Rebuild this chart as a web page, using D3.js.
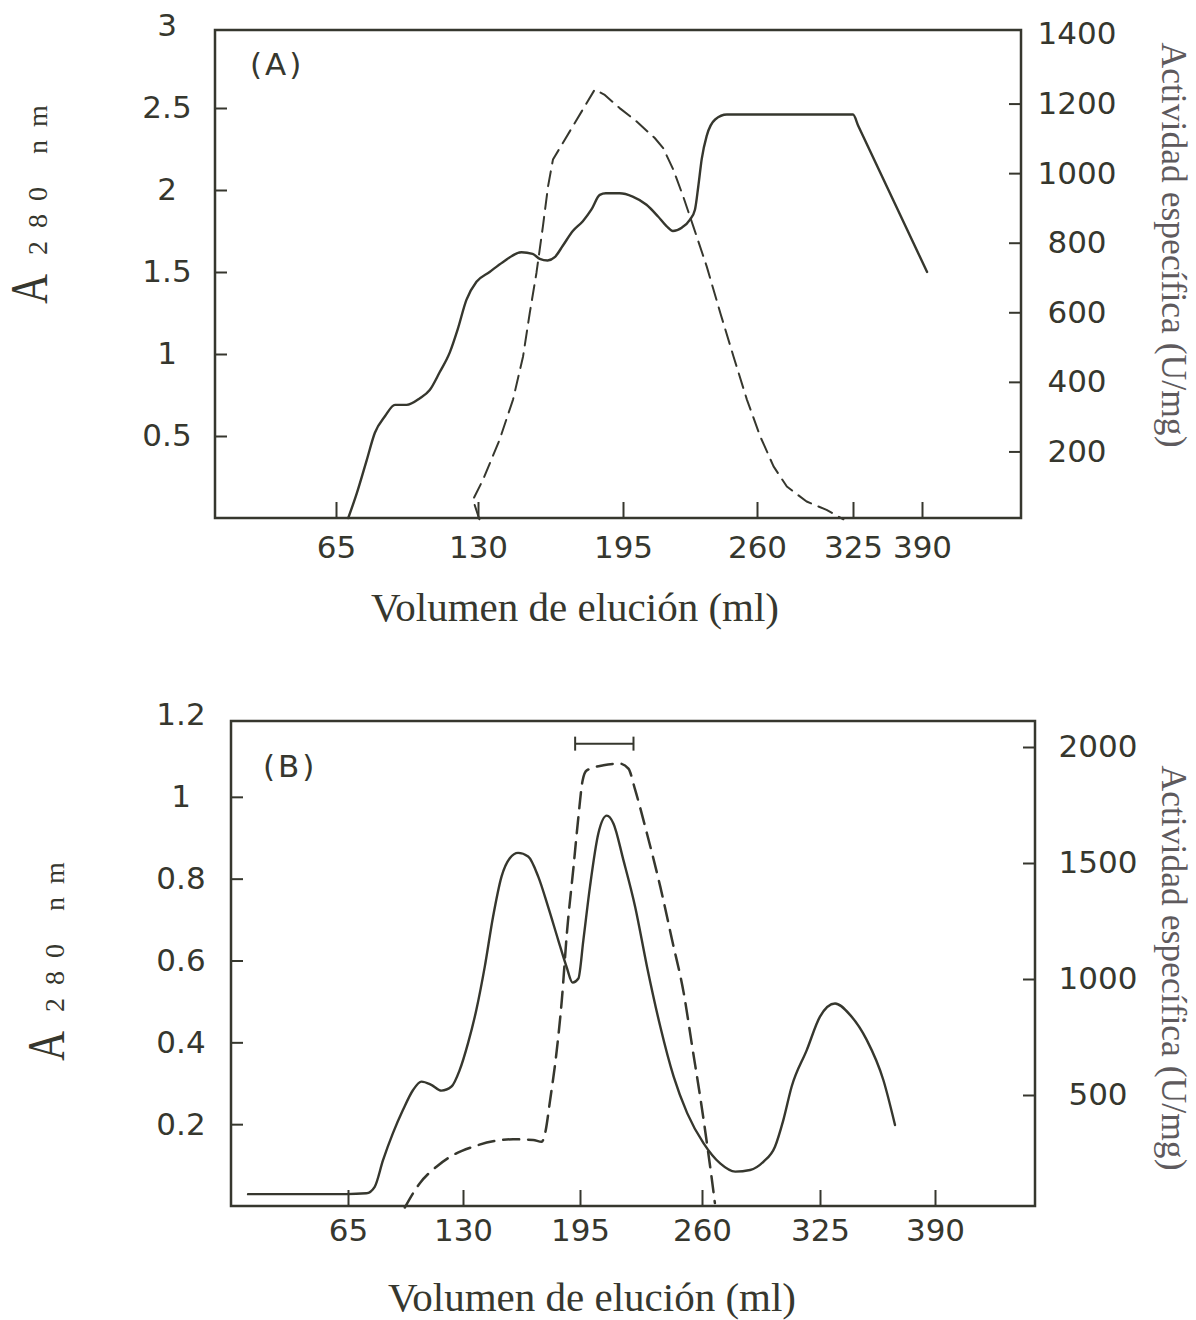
<!DOCTYPE html>
<html>

<head>
  <meta charset="utf-8">
  <script src="https://d3js.org/d3.v7.min.js"></script>
  <style>
    body {
      margin: 0;
      background: #fff;
    }

    svg {
      display: block;
    }

    .frame {
      fill: none;
      stroke: #36372e;
      stroke-width: 2.5;
    }

    .curve {
      fill: none;
      stroke: #36372e;
      stroke-linejoin: round;
      stroke-linecap: round;
    }
  </style>
</head>

<body>
  <script>
    // ---- datos ----
    const xTicks = [65, 130, 195, 260, 325, 390];
    const absTicksA = [0.5, 1, 1.5, 2, 2.5, 3];
    const actTicksA = [200, 400, 600, 800, 1000, 1200, 1400];
    const absTicksB = [0.2, 0.4, 0.6, 0.8, 1, 1.2];
    const actTicksB = [500, 1000, 1500, 2000];

    // (A) absorbancia a 280 nm [ml, A]
    const absA = [
      [70.6, 0], [74.5, 0.15], [79, 0.35], [82.8, 0.52], [87.4, 0.62], [92, 0.69], [97.3, 0.69],
      [103.4, 0.73], [107.9, 0.78], [112.5, 0.89], [117.1, 1.01], [120.7, 1.15], [124.7, 1.33],
      [129.3, 1.44], [135.2, 1.5], [141.1, 1.56], [149.5, 1.62], [154.5, 1.61], [157.7, 1.58],
      [161.2, 1.57], [164.4, 1.59], [168, 1.66], [172.5, 1.75], [177, 1.81], [180.8, 1.88],
      [184.6, 1.97], [187.3, 1.98], [193.5, 1.98], [199.7, 1.96], [206.4, 1.91], [211.9, 1.84],
      [216.1, 1.78], [219.2, 1.75], [223.5, 1.77], [227.5, 1.82], [229.9, 1.88], [231.5, 2.02],
      [233.2, 2.19], [235.6, 2.33], [239.7, 2.43], [245.4, 2.46], [266.7, 2.46], [325, 2.46],
      [330, 2.39], [394.8, 1.5]
    ];
    // (A) actividad especifica [ml, U/mg]
    const actA = [
      [130.6, 5], [127.7, 61], [132.2, 118], [139.7, 234], [145.7, 349], [150.2, 473], [153.2, 598],
      [156.2, 713], [159.1, 847], [161.4, 962], [163.6, 1039], [182.3, 1240], [186.6, 1226],
      [193.5, 1187], [201.5, 1149], [210.4, 1101], [214.5, 1072], [219.4, 1010], [224.2, 933],
      [229.1, 847], [235.6, 732], [242.2, 598], [248.6, 473], [255.1, 349], [262.2, 243],
      [271.2, 157], [280.2, 99], [293.6, 56], [307.1, 32], [318.5, 5]
    ];

    // (B) absorbancia a 280 nm [ml, A]
    const absB = [
      [8.5, 0.029], [64.1, 0.029], [75.4, 0.031], [80.1, 0.047], [84.8, 0.112], [90.4, 0.178],
      [96.1, 0.235], [101.7, 0.283], [106.5, 0.304], [112.1, 0.296], [117.8, 0.282], [123.5, 0.292],
      [128.1, 0.332], [132.8, 0.398], [137.4, 0.479], [142.1, 0.585], [146.7, 0.707], [151.4, 0.805],
      [156, 0.85], [160.6, 0.863], [166.2, 0.854], [171.8, 0.805], [177.3, 0.731], [182.9, 0.65],
      [187.5, 0.585], [190.9, 0.546], [194.1, 0.556], [196.8, 0.65], [200.3, 0.78], [204.8, 0.911],
      [209.3, 0.954], [212.8, 0.935], [218.1, 0.846], [224.4, 0.731], [230.7, 0.585], [237.8, 0.438],
      [244.9, 0.316], [252.1, 0.227], [260.9, 0.153], [270, 0.104], [278.3, 0.084], [286.5, 0.088],
      [293.8, 0.108], [300.2, 0.145], [304.8, 0.21], [309.4, 0.292], [317.7, 0.381], [325, 0.463],
      [333.5, 0.495], [342, 0.467], [351.4, 0.406], [360.8, 0.308], [367.4, 0.198]
    ];
    // (B) actividad especifica [ml, U/mg]
    const actB = [
      [97.1, 15], [105.5, 119], [115, 191], [124.4, 241], [135.6, 277], [148.6, 303], [157.9, 309],
      [169, 306], [173.7, 298], [175.6, 335], [178.4, 478], [182.1, 693], [184.9, 909], [187.7, 1196],
      [191.4, 1483], [194.1, 1698], [196.4, 1856], [198.6, 1899], [207.5, 1921], [216.4, 1928],
      [220.8, 1907], [224.4, 1815], [230.7, 1626], [237.8, 1397], [244.1, 1167], [250.3, 938],
      [254.8, 708], [259.3, 478], [263.5, 248], [266.2, 90], [267.1, 34]
    ];
    // fracciones reunidas (barra sobre el pico)
    const poolB = [192.3, 223.5];
    const poolLevelB = 1.13;

    const ink = "#36372e";
    const svg = d3.select("body")
      .append("svg")
      .attr("width", 1196)
      .attr("height", 1320);

    // el eje x original no es lineal: cada marca en su sitio
    const panels = [
      {
        tag: "(A)", abs: absA, act: actA, absTicks: absTicksA, actTicks: actTicksA,
        absMax: 3, actMax: 1400, actCurve: d3.curveLinear,
        frame: { left: 215, right: 1021, top: 30, bottom: 518 },
        xPx: [336, 478, 623, 757, 853, 922], yL: [518, 26], yR: [521, 34],
        leftLab: -48, rightLab: 56, xLab: 29, tagPos: [250, 75], dash: "15,8", actWidth: 2,
        xTitle: [575, 621], yTitle: [47, 304], rTitle: [1162, 245]
      },
      {
        tag: "(B)", abs: absB, act: actB, absTicks: absTicksB, actTicks: actTicksB,
        absMax: 1.2, actMax: 2000, actCurve: d3.curveMonotoneX,
        frame: { left: 231, right: 1035, top: 721, bottom: 1206 },
        xPx: [348, 463, 580, 702, 820, 935], yL: [1206, 715], yR: [1211, 747],
        leftLab: -50, rightLab: 63, xLab: 24, tagPos: [263, 777], dash: "16,9", actWidth: 2.5,
        xTitle: [592, 1311], yTitle: [64, 1061], rTitle: [1162, 968]
      }
    ];

    panels.forEach(function (p) {
      const f = p.frame;
      const x = d3.scaleLinear().domain(xTicks).range(p.xPx);
      const yL = d3.scaleLinear().domain([0, p.absMax]).range(p.yL);
      const yR = d3.scaleLinear().domain([0, p.actMax]).range(p.yR);

      const g = svg.append("g");

      // ejes con marcas hacia dentro
      g.append("g")
        .attr("transform", `translate(0,${f.bottom})`)
        .call(d3.axisBottom(x).tickValues(xTicks).tickSize(-16).tickFormat(d3.format("d")))
        .call(a => a.select(".domain").remove())
        .call(a => a.selectAll("text").attr("y", p.xLab).attr("dy", "0.36em"));

      g.append("g")
        .attr("transform", `translate(${f.left},0)`)
        .call(d3.axisLeft(yL).tickValues(p.absTicks).tickSize(-12).tickFormat(d => String(d)))
        .call(a => a.select(".domain").remove())
        .call(a => a.selectAll(".tick").filter(d => yL(d) < f.top + 8).select("line").remove())
        .call(a => a.selectAll("text").attr("x", p.leftLab).attr("text-anchor", "middle"));

      g.append("g")
        .attr("transform", `translate(${f.right},0)`)
        .call(d3.axisRight(yR).tickValues(p.actTicks).tickSize(-12).tickFormat(d => String(d)))
        .call(a => a.select(".domain").remove())
        .call(a => a.selectAll(".tick").filter(d => yR(d) < f.top + 8).select("line").remove())
        .call(a => a.selectAll("text").attr("x", p.rightLab).attr("text-anchor", "middle"));

      g.selectAll(".tick line").attr("stroke", ink).attr("stroke-width", 2);
      g.selectAll(".tick text")
        .attr("fill", ink)
        .attr("font-family", "DejaVu Sans")
        .attr("font-size", 31);

      g.append("rect")
        .attr("class", "frame")
        .attr("x", f.left)
        .attr("y", f.top)
        .attr("width", f.right - f.left)
        .attr("height", f.bottom - f.top);

      // curvas
      g.append("path")
        .datum(p.abs)
        .attr("class", "curve")
        .attr("stroke-width", 2.4)
        .attr("d", d3.line().x(d => x(d[0])).y(d => yL(d[1])).curve(d3.curveMonotoneX));

      g.append("path")
        .datum(p.act)
        .attr("class", "curve")
        .attr("stroke-width", p.actWidth)
        .attr("stroke-dasharray", p.dash)
        .attr("stroke-linecap", "butt")
        .attr("d", d3.line().x(d => x(d[0])).y(d => yR(d[1])).curve(p.actCurve));

      g.append("text")
        .attr("x", p.tagPos[0])
        .attr("y", p.tagPos[1])
        .attr("fill", ink)
        .attr("font-family", "DejaVu Sans")
        .attr("font-size", 31)
        .attr("letter-spacing", 3)
        .text(p.tag);

      // titulos
      g.append("text")
        .attr("x", p.xTitle[0])
        .attr("y", p.xTitle[1])
        .attr("text-anchor", "middle")
        .attr("fill", ink)
        .attr("font-family", "Liberation Serif")
        .attr("font-size", 41)
        .text("Volumen de elución (ml)");

      g.append("text")
        .attr("transform", `translate(${p.yTitle[0]},${p.yTitle[1]}) rotate(-90)`)
        .attr("fill", ink)
        .attr("font-family", "Liberation Serif")
        .attr("font-size", 53)
        .attr("textLength", 30)
        .attr("lengthAdjust", "spacingAndGlyphs")
        .text("A");
      g.append("text")
        .attr("transform", `translate(${p.yTitle[0]},${p.yTitle[1] - 49}) rotate(-90)`)
        .attr("fill", ink)
        .attr("font-family", "Liberation Serif")
        .attr("font-size", 28)
        .attr("letter-spacing", 13)
        .text("280 nm");

      g.append("text")
        .attr("transform", `translate(${p.rTitle[0]},${p.rTitle[1]}) rotate(90)`)
        .attr("text-anchor", "middle")
        .attr("fill", "#5e5a5d")
        .attr("font-family", "Liberation Serif")
        .attr("font-size", 35)
        .attr("textLength", 405)
        .attr("lengthAdjust", "spacingAndGlyphs")
        .text("Actividad específica (U/mg)");

      if (p.tag === "(B)") {
        const yb = yL(poolLevelB);
        const bar = g.append("g").attr("stroke", ink).attr("stroke-width", 2);
        bar.append("line")
          .attr("x1", x(poolB[0])).attr("x2", x(poolB[1]))
          .attr("y1", yb).attr("y2", yb);
        bar.selectAll(".cap")
          .data(poolB)
          .enter()
          .append("line")
          .attr("class", "cap")
          .attr("x1", d => x(d)).attr("x2", d => x(d))
          .attr("y1", yb - 7).attr("y2", yb + 7);
      }
    });
  </script>
</body>

</html>
